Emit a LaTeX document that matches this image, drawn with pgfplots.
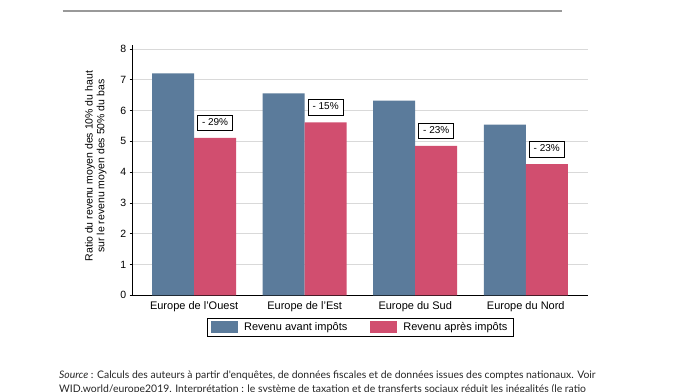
\documentclass[border=0pt]{standalone}
\usepackage{fontspec}
\setmainfont{Liberation Sans}
\newfontfamily\lato{Lato}
\usepackage{pgfplots}
\pgfplotsset{compat=1.18}
\definecolor{bleu}{HTML}{5B7B9B}
\definecolor{rouge}{HTML}{D14E6F}
\begin{document}
\begin{tikzpicture}[x=1pt,y=1pt]
\path[use as bounding box] (0,0) rectangle (695,391);
\fill[white] (0,0) rectangle (695,391);
\draw[gray!80, line width=1.8pt] (62.7,380) -- (562,380);
\begin{axis}[
  at={(132.7pt,95.7pt)}, anchor=south west,
  scale only axis, width=455pt, height=250.3pt,
  xmin=-0.555, xmax=3.56, ymin=0, ymax=8.13,
  ybar=0pt, bar width=42pt,
  axis x line*=bottom, axis y line*=left,
  axis line style={-, black, line width=0.8pt},
  xtick=data,
  xticklabels={Europe de l'Ouest, Europe de l'Est, Europe du Sud, Europe du Nord},
  xtick style={draw=none},
  xticklabel style={font=\fontsize{11}{13}\selectfont},
  ytick={0,1,2,3,4,5,6,7,8},
  ytick style={black, line width=0.6pt},
  tick align=outside, major tick length=3pt,
  yticklabel style={font=\fontsize{10.5}{12}\selectfont},
  /pgf/number format/assume math mode=true,
  ymajorgrids, grid style={black!15, line width=0.6pt},
  ylabel={Ratio du revenu moyen des 10\% du haut\\sur le revenu moyen des 50\% du bas},
  ylabel style={align=center, font=\fontsize{10.5}{11.7}\selectfont, at={(axis description cs:-0.081,0.516)}, anchor=center},
  legend style={at={(0.5,0)}, anchor=north, yshift=-22.7pt, draw=black, line width=0.6pt,
    font=\fontsize{11}{13}\selectfont, inner xsep=4pt, inner ysep=2pt,
    /tikz/every odd column/.append style={column sep=4pt},
    /tikz/every even column/.append style={column sep=21pt}},
  legend columns=2,
  legend image code/.code={\fill[#1] (0pt,-6pt) rectangle (27pt,6pt);},
]
\addplot[fill=bleu, draw=none] coordinates {(0,7.21) (1,6.56) (2,6.32) (3,5.54)};
\addplot[fill=rouge, draw=none, nodes near coords, point meta=explicit symbolic,
  every node near coord/.append style={draw=black, fill=white, font=\fontsize{10}{12}\selectfont,
  inner xsep=4.5pt, inner ysep=2.5pt, text height=8pt, text depth=2.5pt, line width=0.6pt,
  anchor=south, yshift=7pt}]
  coordinates {(0,5.11) [- 29\%] (1,5.62) [- 15\%] (2,4.85) [- 23\%] (3,4.26) [- 23\%]};
\legend{Revenu avant impôts, Revenu après impôts}
\end{axis}
\node[anchor=base west, inner sep=0, font=\lato\fontsize{10.4}{12}\selectfont, text=black!85] at (59,12.3)
  {\textit{Source} : Calculs des auteurs à partir d'enquêtes, de données fiscales et de données issues des comptes nationaux. Voir};
\node[anchor=base west, inner sep=0, font=\lato\fontsize{10.4}{12}\selectfont, text=black!85] at (59,-1.5)
  {WID.world/europe2019. Interprétation : le système de taxation et de transferts sociaux réduit les inégalités (le ratio};
\end{tikzpicture}
\end{document}
